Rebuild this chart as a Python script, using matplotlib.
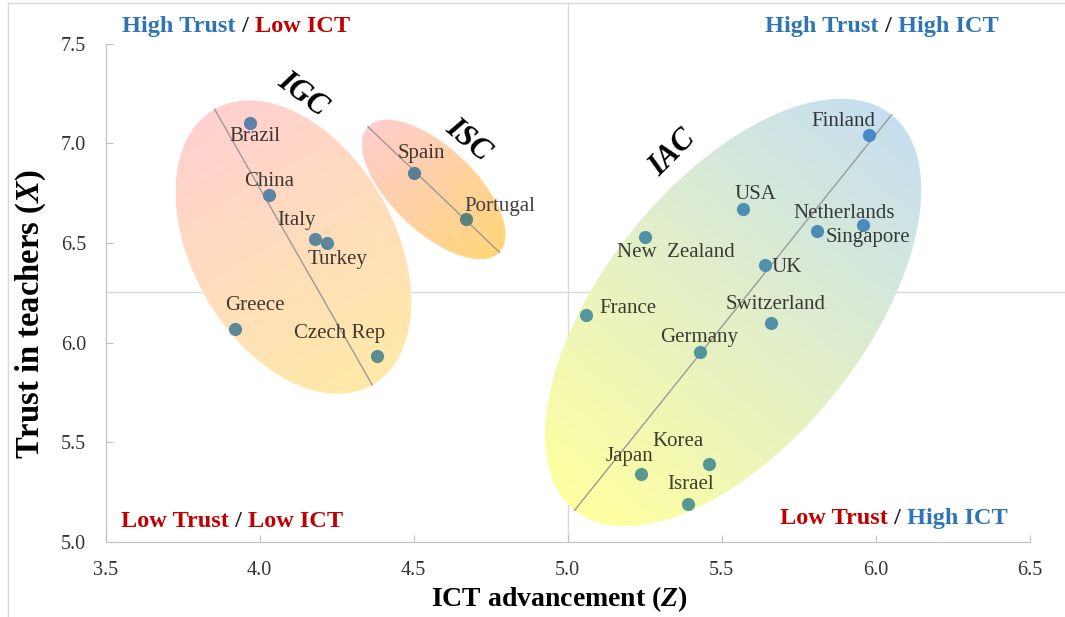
import numpy as np
import matplotlib
matplotlib.use("Agg")
import matplotlib.pyplot as plt
from matplotlib.patches import Polygon
from matplotlib.lines import Line2D

# --- data ---
countries = ["Brazil", "China", "Italy", "Turkey", "Spain", "Portugal", "Greece",
             "Czech Rep", "Finland", "USA", "Netherlands", "Singapore", "New  Zealand",
             "UK", "France", "Switzerland", "Germany", "Korea", "Japan", "Israel"]
ict = [3.97, 4.03, 4.18, 4.22, 4.50, 4.67, 3.92, 4.38, 5.98, 5.57, 5.96, 5.81,
       5.25, 5.64, 5.06, 5.66, 5.43, 5.46, 5.24, 5.39]
trust = [7.10, 6.74, 6.52, 6.50, 6.85, 6.62, 6.07, 5.93, 7.04, 6.67, 6.59, 6.56,
         6.53, 6.39, 6.14, 6.10, 5.95, 5.39, 5.34, 5.19]

clusters = ["IGC", "ISC", "IAC"]
cluster_start = [(3.854, 7.171), (4.352, 7.083), (5.023, 5.158)]
cluster_end = [(4.366, 5.787), (4.779, 6.453), (6.052, 7.143)]
cluster_text_pos = [(4.138, 7.247), (4.677, 7.016), (5.342, 6.951)]

ict_split = 5.0
trust_split = 6.255
xticks = [3.5, 4.0, 4.5, 5.0, 5.5, 6.0, 6.5]
yticks = [5.0, 5.5, 6.0, 6.5, 7.0, 7.5]

# label offsets from each point, in pixels (dx, dy)
label_offsets = {
    "Brazil": (5, -13), "China": (0, 14), "Italy": (-18, 18), "Turkey": (10, -17),
    "Spain": (8, 20), "Portugal": (34, 12), "Greece": (20, 23), "Czech Rep": (-37, 23),
    "Finland": (-26, 14), "USA": (12, 15), "Netherlands": (-19, 11),
    "Singapore": (51, -7), "New  Zealand": (31, -16), "UK": (22, -3),
    "France": (42, 6), "Switzerland": (5, 18), "Germany": (-1, 15),
    "Korea": (-31, 23), "Japan": (-12, 17), "Israel": (3, 19),
}

BLUE = "#2E75B6"
RED = "#C00000"
POINT = np.array([91, 155, 213]) / 255
LABEL = np.array([64, 64, 64]) / 255

plt.rcParams["font.family"] = "serif"
plt.rcParams["font.serif"] = ["Liberation Serif", "DejaVu Serif"]
plt.rcParams["mathtext.fontset"] = "custom"
plt.rcParams["mathtext.it"] = "Liberation Serif:italic:bold"
plt.rcParams["mathtext.rm"] = "Liberation Serif:bold"

fig = plt.figure(figsize=(10.65, 6.17), dpi=100)
ax = fig.add_axes([0.0991, 0.122, 0.8676, 0.8072])
ax.set_xlim(3.5, 6.5)
ax.set_ylim(5.0, 7.5)
ax.set_autoscale_on(False)
ax.patch.set_alpha(0)


class Blob:
    """Gradient-filled ellipse built around a cluster's trend line (display px)."""

    def __init__(self, p0, p1, half_minor, c0, c1):
        self.p0, self.p1 = p0, p1
        self.P0 = ax.transData.transform(p0)
        self.P1 = ax.transData.transform(p1)
        self.c = (self.P0 + self.P1) / 2
        d = self.P1 - self.P0
        self.a = np.hypot(*d) / 2
        self.b = half_minor
        self.u = d / (2 * self.a)
        self.v = np.array([-self.u[1], self.u[0]])
        self.c0 = np.array(c0) / 255
        self.c1 = np.array(c1) / 255

    def color_at(self, P):
        t = (np.dot(P - self.c, self.u) / self.a + 1) / 2
        return self.c0 + (self.c1 - self.c0) * np.clip(t, 0, 1)

    def contains(self, P):
        q = P - self.c
        return (np.dot(q, self.u) / self.a) ** 2 + (np.dot(q, self.v) / self.b) ** 2 <= 1

    def draw(self):
        th = np.linspace(0, 2 * np.pi, 300)
        pts = (self.c + self.a * np.cos(th)[:, None] * self.u
               + self.b * np.sin(th)[:, None] * self.v)
        inv = ax.transData.inverted()
        poly = Polygon(inv.transform(pts), closed=True, facecolor="none",
                       edgecolor="none")
        ax.add_patch(poly)
        x0, y0 = pts.min(0)
        x1, y1 = pts.max(0)
        nx, ny = int(x1 - x0) + 2, int(y1 - y0) + 2
        gx, gy = np.meshgrid(np.linspace(x0, x1, nx), np.linspace(y0, y1, ny))
        t = ((gx - self.c[0]) * self.u[0] + (gy - self.c[1]) * self.u[1]) / self.a
        t = np.clip((t + 1) / 2, 0, 1)[..., None]
        rgb = self.c0 + (self.c1 - self.c0) * t
        (dx0, dy0), (dx1, dy1) = inv.transform([(x0, y0), (x1, y1)])
        im = ax.imshow(rgb, extent=[dx0, dx1, dy0, dy1], origin="lower",
                       aspect="auto", interpolation="bilinear", zorder=1)
        im.set_clip_path(poly)
        ax.plot([self.p0[0], self.p1[0]], [self.p0[1], self.p1[1]],
                color="#9A9A9A", lw=1, zorder=2)


blobs = [
    Blob(cluster_start[0], cluster_end[0], 101, (255, 208, 208), (255, 234, 168)),
    Blob(cluster_start[1], cluster_end[1], 42, (255, 205, 205), (255, 214, 122)),
    Blob(cluster_start[2], cluster_end[2], 130, (255, 255, 160), (198, 223, 240)),
]
for b in blobs:
    b.draw()


def tint(base, P):
    # overlay behaves like a multiply blend in the original
    for b in blobs:
        if b.contains(P):
            return base * b.color_at(P)
    return base


# quadrant split lines
ax.axvline(ict_split, ymin=0, ymax=1.082, color="#D9D9D9", lw=1, zorder=0.5,
           clip_on=False)
ax.axhline(trust_split, xmin=0, xmax=1.037, color="#D9D9D9", lw=1, zorder=0.5,
           clip_on=False)

# points and labels
for name, x, y in zip(countries, ict, trust):
    P = ax.transData.transform((x, y))
    ax.scatter([x], [y], s=90, color=tint(POINT, P), zorder=4, linewidths=0)
    dx, dy = label_offsets[name]
    ax.annotate(name, (x, y), xytext=(dx, dy), textcoords="offset pixels",
                ha="center", va="center", fontsize=15,
                color=tint(LABEL, P + np.array([dx, dy])), zorder=5)

rots = [-37, -40, 45]
for name, pos, r in zip(clusters, cluster_text_pos, rots):
    ax.text(pos[0], pos[1], name, rotation=r, ha="center", va="center",
            fontsize=22, fontweight="bold", fontstyle="italic", color="black",
            zorder=6)


# quadrant titles
def quadrant(x, y, left, lcol, right, rcol):
    t1 = ax.text(x, y, left, transform=ax.transAxes, ha="left", va="center",
                 fontsize=17.5, fontweight="bold", color=lcol)
    t2 = ax.annotate(" / ", xy=(1, 0.5), xycoords=t1, ha="left", va="center",
                     fontsize=17.5, fontweight="bold", color="#262626")
    ax.annotate(right, xy=(1, 0.5), xycoords=t2, ha="left", va="center",
                fontsize=17.5, fontweight="bold", color=rcol)


quadrant(0.018, 1.034, "High Trust", BLUE, "Low ICT", RED)
quadrant(0.714, 1.034, "High Trust", BLUE, "High ICT", BLUE)
quadrant(0.017, 0.040, "Low Trust", RED, "Low ICT", RED)
quadrant(0.730, 0.046, "Low Trust", RED, "High ICT", BLUE)

# axes styling
ax.set_xticks(xticks)
ax.set_yticks(yticks)
ax.set_xticklabels([f"{v:.1f}" for v in xticks])
ax.set_yticklabels([f"{v:.1f}" for v in yticks])
ax.tick_params(direction="in", length=5, color="#BFBFBF", labelsize=14.5,
               labelcolor="#333333", pad=14)
for side in ["top", "right"]:
    ax.spines[side].set_visible(False)
for side in ["left", "bottom"]:
    ax.spines[side].set_color("#BFBFBF")

ax.set_xlabel("ICT advancement ($\\mathit{Z}$)", fontsize=20, fontweight="bold")
ax.set_ylabel("Trust in teachers ($\\mathit{X}$)", fontsize=23.5, fontweight="bold")
ax.xaxis.set_label_coords(0.491, -0.085)
ax.yaxis.set_label_coords(-0.062, 0.457)

# outer chart border (top and left edges visible)
fig.add_artist(Line2D([8 / 1065, 1.0], [1 - 3 / 617, 1 - 3 / 617],
                      color="#D9D9D9", lw=1))
fig.add_artist(Line2D([8 / 1065, 8 / 1065], [0, 1 - 3 / 617],
                      color="#D9D9D9", lw=1))

fig.savefig("out.png", dpi=100)
